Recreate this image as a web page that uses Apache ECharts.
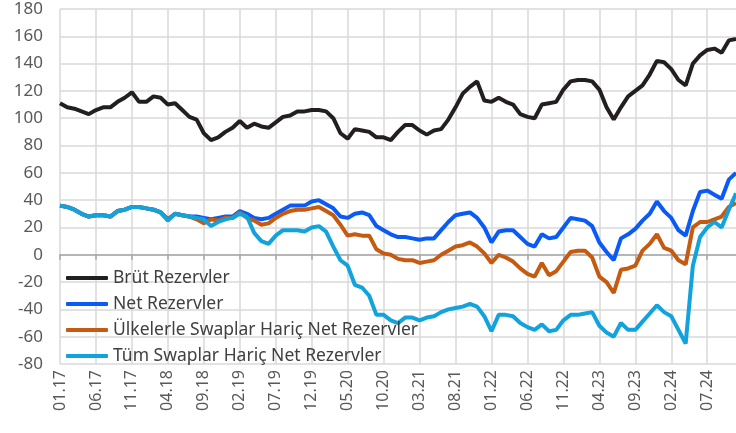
<!DOCTYPE html>
<html>
<head>
<meta charset="utf-8">
<script src="https://cdn.jsdelivr.net/npm/echarts@6/dist/echarts.min.js"></script>
<style>
  html, body { margin: 0; padding: 0; background: #fff; }
  #main { width: 736px; height: 433px; }
</style>
</head>
<body>
<div id="main"></div>
<script>
// aylık kategoriler (01.17 - 11.24)
var categories = [
  '01.17','02.17','03.17','04.17','05.17','06.17','07.17','08.17','09.17','10.17','11.17','12.17',
  '01.18','02.18','03.18','04.18','05.18','06.18','07.18','08.18','09.18','10.18','11.18','12.18',
  '01.19','02.19','03.19','04.19','05.19','06.19','07.19','08.19','09.19','10.19','11.19','12.19',
  '01.20','02.20','03.20','04.20','05.20','06.20','07.20','08.20','09.20','10.20','11.20','12.20',
  '01.21','02.21','03.21','04.21','05.21','06.21','07.21','08.21','09.21','10.21','11.21','12.21',
  '01.22','02.22','03.22','04.22','05.22','06.22','07.22','08.22','09.22','10.22','11.22','12.22',
  '01.23','02.23','03.23','04.23','05.23','06.23','07.23','08.23','09.23','10.23','11.23','12.23',
  '01.24','02.24','03.24','04.24','05.24','06.24','07.24','08.24','09.24','10.24','11.24'
];

var brutRezerv = [
  111,108,107,105,103,106,108,108,112,115,119,112,
  112,116,115,110,111,106,101,99,89,84,86,90,
  93,98,93,96,94,93,97,101,102,105,105,106,
  106,105,100,89,85,92,91,90,86,86,84,90,
  95,95,91,88,91,92,99,108,118,123,127,113,
  112,115,112,110,103,101,100,110,111,112,121,127,
  128,128,127,121,108,99,108,116,120,124,132,142,
  141,136,128,124,140,146,150,151,148,157,158
];

var netRezerv = [
  36,35,33,30,28,29,29,28,32,33,35,35,
  34,33,31,26,30,29,28,28,27,26,27,28,
  28,32,30,27,26,27,30,33,36,36,36,39,
  40,37,34,28,27,30,31,29,21,18,15,13,
  13,12,11,12,12,18,24,29,30,31,27,20,
  9,17,18,18,13,8,6,15,12,13,20,27,
  26,25,21,9,2,-4,12,15,19,25,30,39,
  32,27,18,14,32,46,47,44,41,55,60
];

var ulkelerleSwapHaric = [
  36,35,33,30,28,29,29,28,32,33,35,35,
  34,33,31,26,30,29,28,26,23,26,25,27,
  27,31,27,25,22,23,27,30,32,33,33,34,
  35,32,29,22,14,15,14,14,4,1,0,-3,
  -4,-4,-6,-5,-4,0,3,6,7,9,6,1,
  -6,0,-2,-5,-10,-14,-16,-6,-15,-12,-5,2,
  3,3,-2,-16,-20,-28,-11,-10,-8,3,8,15,
  5,3,-4,-7,20,24,24,26,28,35,38
];

var tumSwapHaric = [
  36,35,33,30,28,29,29,28,32,33,35,35,
  34,33,31,25,30,29,28,27,26,21,24,26,
  27,30,28,16,10,8,14,18,18,18,17,20,
  21,17,6,-4,-8,-22,-24,-30,-44,-44,-48,-50,
  -46,-46,-48,-46,-45,-42,-40,-39,-38,-36,-38,-45,
  -56,-44,-44,-45,-50,-53,-55,-51,-56,-55,-48,-44,
  -44,-43,-42,-52,-57,-60,-50,-55,-55,-49,-43,-37,
  -42,-45,-55,-65,-8,13,20,24,20,33,45
];

var seriesNames = ['Brüt Rezervler', 'Net Rezervler', 'Ülkelerle Swaplar Hariç Net Rezervler', 'Tüm Swaplar Hariç Net Rezervler'];
var seriesColors = ['#231F20', '#0A5AF5', '#C55A11', '#12A3DD'];
var seriesData = [brutRezerv, netRezerv, ulkelerleSwapHaric, tumSwapHaric];

var myChart = echarts.init(document.getElementById('main'));

var option = {
    animation: false,
    textStyle: { fontFamily: 'Noto Sans' },
    grid: {
        left: 60,
        right: 0,
        top: 9,
        bottom: 69
    },
    legend: {
        orient: 'vertical',
        left: 61,
        top: 264,
        itemGap: 8,
        itemWidth: 42,
        itemHeight: 4,
        icon: 'roundRect',
        textStyle: { fontSize: 17.5, color: '#404040' },
        data: seriesNames
    },
    xAxis: [
        {
            type: 'category',
            data: categories,
            boundaryGap: false,
            axisLine: { onZero: true, lineStyle: { color: '#A6A6A6', width: 1.5 } },
            axisTick: { show: true, interval: 4, length: 5, lineStyle: { color: '#A6A6A6', width: 1.5 } },
            axisLabel: { show: false },
            splitLine: { show: true, interval: 4, lineStyle: { color: '#D9D9D9', width: 1.5 } }
        },
        {
            type: 'category',
            data: categories,
            boundaryGap: false,
            position: 'bottom',
            axisLine: { show: false, onZero: false },
            axisTick: { show: false },
            axisLabel: { interval: 4, rotate: 90, fontSize: 16, color: '#595959', margin: 6 },
            splitLine: { show: false }
        }
    ],
    yAxis: {
        type: 'value',
        min: -80,
        max: 180,
        interval: 20,
        axisLine: { show: false },
        axisTick: { show: false },
        axisLabel: { fontSize: 17, color: '#595959', margin: 17 },
        splitLine: { lineStyle: { color: '#D9D9D9', width: 1.5 } }
    },
    series: seriesData.map(function (d, i) {
        return {
            name: seriesNames[i],
            type: 'line',
            xAxisIndex: 0,
            data: d,
            symbol: 'none',
            color: seriesColors[i],
            lineStyle: { color: seriesColors[i], width: 4 }
        };
    })
};

myChart.setOption(option);
</script>
</body>
</html>
